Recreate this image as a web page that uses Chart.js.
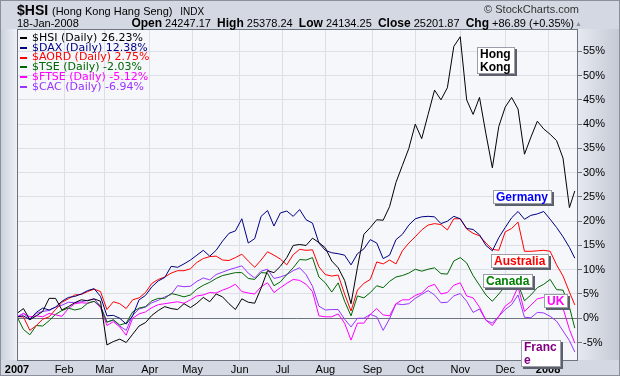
<!DOCTYPE html>
<html>
<head>
<meta charset="utf-8">
<script src="https://cdn.jsdelivr.net/npm/chart.js@4.4.1/dist/chart.umd.min.js"></script>
<style>
  html, body { margin: 0; padding: 0; background: #d3d8e2; }
  #wrap { position: relative; width: 620px; height: 376px; overflow: hidden; }
  #wrap canvas { position: absolute; left: 0; top: 0; }
  .t { position: absolute; font-family: "Liberation Sans", Arial, sans-serif; line-height: 1; white-space: nowrap; color: #000; }
</style>
</head>
<body>
<div id="wrap">
  <canvas id="chart" width="620" height="376"></canvas>
  <div class="t" style="left:17px;top:3px;font-size:14px"><b>$HSI</b> <span style="font-size:11px">(Hong Kong Hang Seng)</span>&nbsp; <span style="font-size:10px">INDX</span></div>
  <span class="t" style="left:17px;top:18px;font-size:11px">18-Jan-2008</span>
  <span class="t" id="quote" style="right:46px;top:17px;font-size:11px"><b style="font-size:12px">Open</b> 24247.17&nbsp; <b style="font-size:12px">High</b> 25378.24&nbsp; <b style="font-size:12px">Low</b> 24134.25&nbsp; <b style="font-size:12px">Close</b> 25201.87&nbsp; <b style="font-size:12px">Chg</b> +86.89 (+0.35%)</span>
  <span class="t" style="left:575px;top:20px;font-size:7px;color:#8a8f9a">&#9650;</span>
  <span class="t" style="right:41px;top:4px;font-size:11px;color:#333">&copy; StockCharts.com</span>
</div>
<script>
// trading day index of each sample (0 = 2-Jan-2007)
const days = [
  0, 3, 6, 9, 12, 15, 18, 21, 24, 27, 30,
  33, 36, 39, 42, 45, 48, 51, 54, 57, 60, 63,
  66, 69, 72, 75, 78, 81, 84, 87, 90, 93, 96,
  99, 102, 105, 108, 111, 114, 117, 120, 123, 126, 129,
  132, 135, 138, 141, 144, 147, 150, 153, 156, 159, 162,
  165, 168, 171, 174, 177, 180, 183, 186, 189, 192, 195,
  198, 201, 204, 207, 210, 213, 216, 219, 222, 225, 228,
  231, 234, 237, 240, 243, 246, 249, 252, 255, 258, 260.5
];

// % change since end of 2006
const hsi = [
  1.0, 2.0, -0.3, 0.5, 1.4, 4.1, 4.1, 1.7, 2.4, 3.2, 3.8,
  3.6, 4.0, 3.5, -5.5, -4.8, -4.3, -5.0, -3.3, -1.6, -0.9, 0.6,
  1.6, 2.4, 2.0, 1.8, 3.0, 2.2, 3.1, 4.3, 3.4, 5.0, 4.4,
  3.0, 1.8, 4.0, 3.3, 3.1, 6.2, 9.8, 9.4, 10.7, 12.5, 15.0,
  15.2, 15.0, 16.5, 15.6, 14.5, 11.8, 10.4, 7.8, 3.0, 10.5, 17.3,
  18.7, 20.3, 20.2, 23.0, 28.0, 31.5, 35.0, 40.0, 37.0, 42.0, 47.0,
  45.0, 47.5, 56.0, 58.0, 45.0, 42.0, 45.5, 38.0, 31.0, 39.5, 43.5,
  45.5, 43.1, 33.8, 37.3, 40.6, 39.0, 37.9, 36.6, 33.0, 22.8, 26.23
];
const dax = [
  0.3, 0.5, -0.3, 1.2, 2.1, 1.7, 2.3, 3.5, 4.3, 4.5, 5.0,
  5.7, 6.1, 4.5, 0.5, 0.6, 0.0, -1.2, 0.5, 3.8, 4.7, 6.5,
  7.7, 8.4, 10.7, 10.5, 11.2, 12.0, 13.0, 14.0, 12.8, 14.0, 15.9,
  17.5, 18.0, 20.5, 15.5, 16.4, 21.0, 22.2, 19.0, 21.7, 22.1, 21.0,
  22.4, 20.3, 19.6, 15.5, 14.0, 13.5, 13.3, 13.0, 11.0, 13.3, 14.3,
  16.2, 15.5, 12.3, 13.0, 16.2, 17.3, 19.2, 20.5, 20.9, 21.0, 20.9,
  19.5, 20.0, 21.0, 20.5, 18.5, 18.3, 17.2, 15.0, 13.9, 16.6, 18.7,
  20.7, 22.0, 20.4, 21.2, 21.5, 22.0, 20.4, 18.7, 16.8, 14.6, 12.38
];
const aord = [
  0.3, 0.3, -2.5, -1.5, -0.2, 0.3, 1.8, 3.3, 4.0, 4.8, 4.9,
  5.5, 6.0, 5.5, 1.8, 3.4, 3.0, 2.0, 3.8, 4.2, 5.3, 7.2,
  8.0, 8.5, 9.3, 9.8, 9.8, 10.2, 11.5, 12.3, 12.7, 12.8, 12.0,
  11.9, 12.5, 13.2, 11.8, 10.5, 12.0, 13.7, 13.0, 12.2, 11.0, 13.1,
  14.2, 14.0, 14.1, 10.6, 9.0, 8.7, 8.9, 5.0, 1.5, 5.8, 7.2,
  8.0, 11.6, 11.2, 12.0, 11.2, 13.9, 15.5, 16.8, 18.2, 19.2, 19.5,
  19.3, 18.2, 20.5, 20.5, 18.4, 17.5, 17.0, 15.5, 14.2, 14.0, 17.8,
  18.5, 19.8, 13.8, 13.8, 13.9, 14.0, 13.8, 11.0, 8.7, 5.4, 2.75
];
const tse = [
  0.3, -2.3, -3.4, -1.5, -1.6, -0.5, 0.8, 1.6, 2.1, 1.7, 2.0,
  3.1, 3.5, 2.5, -0.8, -0.3, -1.4, -1.0, 1.3, 2.1, 2.4, 3.6,
  4.1, 4.1, 5.1, 4.8, 4.4, 4.8, 6.0, 6.8, 7.4, 8.2, 8.8,
  9.1, 9.4, 9.4, 8.2, 8.0, 9.4, 9.3, 6.7, 7.5, 9.0, 10.4,
  12.1, 12.0, 12.5, 8.5, 7.3, 5.4, 7.3, 3.5, 0.5, 4.6, 4.2,
  5.3, 6.7, 6.3, 7.6, 8.5, 8.8, 9.3, 10.1, 9.7, 10.1, 10.4,
  9.2, 9.1, 11.8, 12.5, 11.4, 8.8, 6.8, 4.8, 3.5, 5.0, 6.6,
  7.0, 7.0, 3.6, 4.8, 6.3, 7.0, 8.0, 5.9, 5.8, 2.3, -2.03
];
const ftse = [
  0.2, 1.0, 0.3, 0.5, 0.3, 1.0, 0.7, 0.4, 2.0, 3.0, 3.2,
  3.1, 3.5, 2.2, -1.5, -0.7, -1.8, -3.5, 0.0, 0.9, 1.3, 2.2,
  2.8, 3.0, 3.2, 3.4, 3.1, 3.8, 4.6, 4.8, 5.3, 5.2, 5.8,
  6.3, 7.0, 5.5, 5.2, 5.0, 6.5, 7.3, 5.3, 6.3, 7.2, 8.0,
  7.8, 7.0, 5.5, 0.5, 0.3, 0.3, 0.9, -1.0, -4.5, -1.0, -1.0,
  0.8, 2.0, 0.7, 0.5, 3.0, 3.8, 3.8, 4.7, 5.2, 6.5, 7.0,
  5.0, 5.3, 6.8, 7.3, 4.6, 4.2, 2.3, -0.4, -1.5, 0.4, 2.5,
  3.5, 6.5, 1.4, 2.7, 4.0, 4.3, 3.8, 3.2, 2.1, -2.3, -5.12
];
const cac = [
  0.3, 1.0, -0.1, 1.0, 1.4, 1.6, 2.3, 2.7, 3.3, 3.2, 3.4,
  3.7, 4.0, 2.5, -0.8, -0.4, -1.6, -2.5, 0.6, 1.9, 2.3, 3.2,
  3.7, 4.4, 4.9, 6.7, 6.5, 6.6, 7.6, 8.3, 7.9, 9.0, 9.5,
  10.0, 10.4, 10.8, 9.3, 8.3, 9.7, 10.1, 8.2, 8.5, 9.0, 9.8,
  10.4, 9.0, 6.6, 2.5, 1.7, 1.8, 1.8, -0.2, -1.8, 0.0, 0.0,
  0.8, 0.3, -2.5, -0.1, 3.0, 2.8, 3.0, 4.1, 4.9, 5.7, 4.8,
  3.2, 3.3, 4.6, 5.1, 3.5, 1.2, 1.9, -0.4, -1.0, 0.4, 1.8,
  2.8, 4.8, 0.2, 0.1, 1.2, 1.1, 0.4, -0.6, -2.6, -4.6, -6.94
];

const symbols = ['$HSI', '$DAX', '$AORD', '$TSE', '$FTSE', '$CAC'];
const seriesData = [hsi, dax, aord, tse, ftse, cac];
const lineColors = ['#000000', '#000080', '#ff0000', '#006600', '#ff00ff', '#9933ff'];

// month boundaries (trading day index) and their labels
const monthTicks = [0, 22, 41, 62, 82, 104, 124, 144, 166, 186, 207, 228, 248];
const monthLabels = ['2007', 'Feb', 'Mar', 'Apr', 'May', 'Jun', 'Jul', 'Aug', 'Sep', 'Oct', 'Nov', 'Dec', '2008'];
const pctTicks = [-5, 0, 5, 10, 15, 20, 25, 30, 35, 40, 45, 50, 55];

// country tags: top-left corner at (day, %)
const tags = [
  { text: 'Hong\nKong', day: 215, value: 55.8, color: '#000000' },
  { text: 'Germany', day: 222.4, value: 26.4, color: '#0000ff' },
  { text: 'Australia', day: 221.5, value: 13.2, color: '#ff0000' },
  { text: 'Canada', day: 217.8, value: 9.1, color: '#008000' },
  { text: 'UK', day: 246.3, value: 5.0, color: '#ff00ff' },
  { text: 'Franc\ne', day: 235.5, value: -4.5, color: '#800080' }
];

const FONT = '"Liberation Sans", Arial, sans-serif';

// backgrounds, plot frame, legend and tags
const decor = {
  id: 'decor',
  beforeDraw(chart) {
    const { ctx, chartArea: a } = chart;
    ctx.save();
    ctx.fillStyle = '#d3d8e2';
    ctx.fillRect(0, 0, 620, 376);
    let g = ctx.createLinearGradient(0, 0, a.left, 0);
    g.addColorStop(0, '#c9cfda');
    g.addColorStop(1, '#eef0f6');
    ctx.fillStyle = g;
    ctx.fillRect(0, a.top, a.left, a.bottom - a.top);
    g = ctx.createLinearGradient(a.right, 0, 620, 0);
    g.addColorStop(0, '#e6e9f0');
    g.addColorStop(1, '#c4c9d4');
    ctx.fillStyle = g;
    ctx.fillRect(a.right, a.top, 620 - a.right, a.bottom - a.top);
    ctx.fillStyle = '#f6f7fb';
    ctx.fillRect(a.left, a.top, a.right - a.left, a.bottom - a.top);
    ctx.strokeStyle = '#8a8f9a';
    ctx.strokeRect(0.5, 0.5, 619, 375);
    ctx.restore();
  },
  afterDatasetsDraw(chart) {
    const { ctx, chartArea: a, scales: { x, y } } = chart;
    ctx.save();
    ctx.strokeStyle = '#6e7380';
    ctx.lineWidth = 1;
    ctx.strokeRect(a.left + 0.5, a.top + 0.5, a.right - a.left - 1, a.bottom - a.top);

    // legend
    ctx.font = '11px "DejaVu Sans", Verdana, sans-serif';
    ctx.textBaseline = 'middle';
    symbols.forEach((s, i) => {
      const yy = a.top + 9 + i * 9.8;
      const d = seriesData[i];
      ctx.fillStyle = lineColors[i];
      ctx.fillRect(a.left + 3, Math.round(yy) - 1, 7, 2);
      ctx.fillText(s + ' (Daily) ' + d[d.length - 1].toFixed(2) + '%', a.left + 15, yy);
    });

    // tags
    ctx.font = 'bold 12px ' + FONT;
    ctx.textBaseline = 'alphabetic';
    tags.forEach(t => {
      const lines = t.text.split('\n');
      const w = Math.round(Math.max(...lines.map(l => ctx.measureText(l).width))) + 7;
      const h = lines.length * 13 + 1;
      const px = Math.round(x.getPixelForValue(t.day));
      const py = Math.round(y.getPixelForValue(t.value));
      ctx.fillStyle = '#5c606b';
      ctx.fillRect(px + 2, py + 2, w, h);
      ctx.fillStyle = '#ffffff';
      ctx.fillRect(px, py, w, h);
      ctx.strokeStyle = '#9a9ea8';
      ctx.strokeRect(px + 0.5, py + 0.5, w - 1, h - 1);
      ctx.fillStyle = t.color;
      lines.forEach((l, i) => ctx.fillText(l, px + 3, py + 11 + i * 13));
    });
    ctx.restore();
  }
};

const ctx = document.getElementById('chart');

const chart = new Chart(ctx, {
  type: 'line',
  data: {
    labels: days,
    datasets: seriesData.map((d, i) => ({
      label: symbols[i],
      data: d.map((v, k) => ({ x: days[k], y: v })),
      borderColor: lineColors[i],
      borderWidth: 1,
      pointRadius: 0,
      tension: 0
    }))
  },
  options: {
    responsive: false,
    devicePixelRatio: 1,
    animation: false,
    layout: { padding: { left: 17, top: 29, right: 0, bottom: 0 } },
    plugins: { legend: { display: false }, tooltip: { enabled: false } },
    scales: {
      x: {
        type: 'linear',
        min: 0,
        max: 262,
        afterBuildTicks: axis => { axis.ticks = monthTicks.map(v => ({ value: v })); },
        afterFit: axis => { axis.height = 16; },
        grid: { color: '#dcdfe6', drawTicks: false },
        border: { display: false },
        ticks: {
          autoSkip: false,
          maxRotation: 0,
          padding: 3,
          color: '#000',
          font: c => ({ family: FONT, size: 11, weight: (c.tick && (c.tick.value === 0 || c.tick.value === 248)) ? 'bold' : 'normal' }),
          callback: v => monthLabels[monthTicks.indexOf(v)]
        }
      },
      y: {
        position: 'right',
        min: -8.6,
        max: 59.6,
        afterBuildTicks: axis => { axis.ticks = pctTicks.map(v => ({ value: v })); },
        afterFit: axis => { axis.width = 42; },
        grid: {
          color: c => c.tick && c.tick.value === 0 ? '#6e7380' : '#dcdfe6',
          tickColor: '#6e7380',
          tickLength: 4
        },
        border: { display: false },
        ticks: {
          padding: 1,
          color: '#000',
          font: { family: FONT, size: 11 },
          callback: v => v + '%'
        }
      }
    }
  },
  plugins: [decor]
});
</script>
</body>
</html>
